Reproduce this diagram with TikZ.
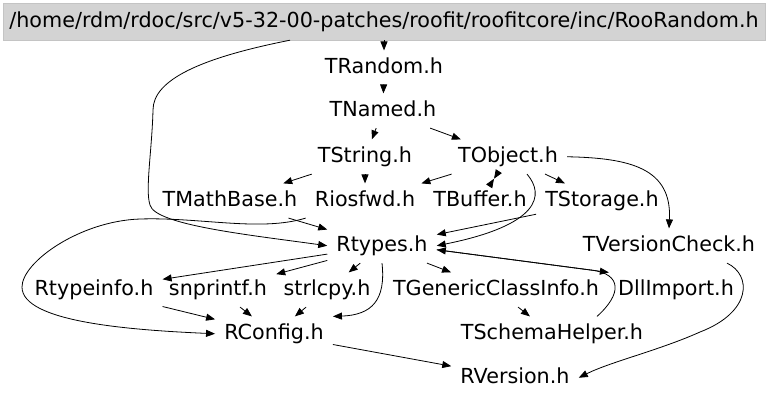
\documentclass[tikz,border=0pt]{standalone}
\usepackage{fontspec}
\setmainfont{DejaVu Sans}
\usetikzlibrary{arrows.meta, calc}
\definecolor{rootfill}{RGB}{211,211,211}
\definecolor{rootline}{RGB}{196,196,196}
\newcommand{\hdrfont}{\fontsize{20.7}{24}\selectfont}
\tikzset{
  hdr/.style={anchor=base, inner xsep=9pt, inner ysep=7pt,
              text height=15.4pt, text depth=4.9pt, font=\hdrfont},
  dep/.style={->, line width=0.8pt}
}

\begin{document}
\begin{tikzpicture}[x=1pt, y=-1pt, >={Triangle[length=9pt, width=7pt]}]
  \useasboundingbox (0,0) rectangle (768,400);

  % Root file
  \node[draw=rootline, fill=rootfill, minimum width=762pt, minimum height=37pt,
        font=\hdrfont] (root) at (384,21.5)
    {/home/rdm/rdoc/src/v5-32-00-patches/roofit/roofitcore/inc/RooRandom.h};

  % Included headers (x, baseline)
  \foreach \n/\x/\y/\lbl in {trandom/384/73/TRandom.h, tnamed/383/116/TNamed.h,
      tstring/365/162/TString.h, tobject/508/162/TObject.h,
      tmathbase/230/206/TMathBase.h, riosfwd/365/206/Riosfwd.h,
      tbuffer/480/206/TBuffer.h, tstorage/602/206/TStorage.h,
      rtypes/382/251/Rtypes.h, tversion/669/251/TVersionCheck.h,
      rtypeinfo/94/295/Rtypeinfo.h, snprintf/218/295/snprintf.h,
      strlcpy/327/295/strlcpy.h, tgeneric/496/295/TGenericClassInfo.h,
      dllimport/676/295/DllImport.h, tschema/552/339/TSchemaHelper.h,
      rconfig/274/339/RConfig.h, rversion/515/383/RVersion.h} {
    \node[hdr] (\n) at (\x,\y) {\lbl};
  }

  % Straight dependencies
  \foreach \a/\b in {root/trandom, trandom/tnamed, tnamed/tstring, tnamed/tobject,
      tstring/tmathbase, tstring/riosfwd, tobject/riosfwd, tobject/tstorage,
      tmathbase/rtypes, tstorage/rtypes, rtypes/rtypeinfo, rtypes/snprintf,
      rtypes/strlcpy, rtypes/tgeneric, tgeneric/tschema, rtypeinfo/rconfig,
      snprintf/rconfig, strlcpy/rconfig, rconfig/rversion} {
    \draw[dep] (\a) -- (\b);
  }

  % TObject.h <-> TBuffer.h
  \coordinate (tbmid) at ($(tobject)!0.5!(tbuffer)$);
  \draw[dep] (tobject) -- (tbmid);
  \draw[dep] (tbuffer) -- (tbmid);

  % Curved dependencies
  \draw[dep] ([xshift=-94pt]root.south) .. controls (200,58) and (153,80) .. (153,110)
    .. controls (152,150) and (145,190) .. (150,205)
    .. controls (155,225) and (250,235) .. (rtypes.west);
  \draw[dep] (riosfwd.south west) .. controls (260,232) and (200,217) .. (140,219)
    .. controls (80,221) and (22,262) .. (22,287)
    .. controls (22,322) and (130,330) .. (rconfig.west);
  \draw[dep] ([xshift=19pt]tobject.south) .. controls (545,195) and (540,225) .. (rtypes.east);
  \draw[dep] (tobject.east) .. controls (630,158) and (672,168) .. (tversion.north);
  \draw[dep] (rtypes.south) .. controls (386,300) and (372,315) .. (rconfig.north east);
  \coordinate (dlljoin) at ($([yshift=-4pt]rtypes.east)!0.9!(dllimport.north west)$);
  \draw[dep] ([xshift=45pt]tschema.north) .. controls (622,294) and (622,274) .. (dlljoin)
    -- ([yshift=-4pt]rtypes.east);
  \draw[dep] ([yshift=-4pt]rtypes.east) -- (dllimport.north west);
  \draw[dep] ([xshift=58pt]tversion.south) .. controls (752,275) and (752,312) .. (700,332)
    .. controls (660,350) and (610,362) .. (rversion.east);
\end{tikzpicture}
\end{document}
